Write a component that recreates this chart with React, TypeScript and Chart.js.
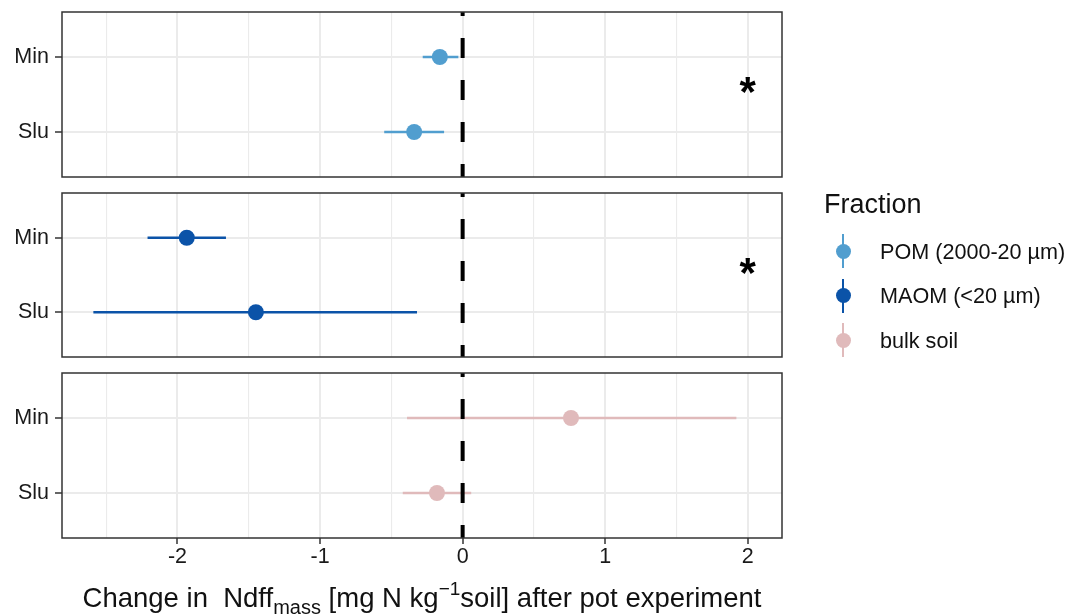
import React, { useEffect, useRef } from 'react';
import { Chart, registerables } from 'chart.js';

Chart.register(...registerables);

// ---------------- data ----------------
const categories = ['Min', 'Slu'];
const fractions = ['POM (2000-20 µm)', 'MAOM (<20 µm)', 'bulk soil'];
const fractionColors = ['#519ECF', '#0B53A8', '#E0BABB'];

const pomMean = [-0.16, -0.34];
const pomLow = [-0.28, -0.55];
const pomHigh = [-0.03, -0.13];

const maomMean = [-1.935, -1.45];
const maomLow = [-2.21, -2.59];
const maomHigh = [-1.66, -0.32];

const bulkMean = [0.76, -0.18];
const bulkLow = [-0.39, -0.42];
const bulkHigh = [1.92, 0.06];

const significance = ['*', '*', ''];
const sigPosX = [2, 2, 2];
const sigPosY = [1.5, 1.5, 1.5];

const xTickValues = [-2.5, -2, -1.5, -1, -0.5, 0, 0.5, 1, 1.5, 2];
const xRange = [-2.81, 2.24];
const yRange = [0.4, 2.6];
const refLine = 0;

const panelSeries = [
  { mean: pomMean, low: pomLow, high: pomHigh },
  { mean: maomMean, low: maomLow, high: maomHigh },
  { mean: bulkMean, low: bulkLow, high: bulkHigh },
];

// ---------------- layout ----------------
const FONT = '"Liberation Sans", Arial, Helvetica, sans-serif';
const W = 1069;
const panelLayouts = [
  { top: 0, height: 185, padTop: 12, padBottom: 7, showX: false, xHeight: 0 },
  { top: 185, height: 180, padTop: 7.5, padBottom: 7, showX: false, xHeight: 0 },
  { top: 365, height: 250, padTop: 7.5, padBottom: 0, showX: true, xHeight: 77 },
];

function Panel({ index }: { index: number }) {
  const ref = useRef<HTMLCanvasElement | null>(null);
  useEffect(() => {
    const canvas = ref.current;
    if (!canvas) return;
    const s = panelSeries[index];
    const color = fractionColors[index];
    const L = panelLayouts[index];

    const datasets: any[] = [];
    categories.forEach((_, i) => {
      datasets.push({
        data: [
          { x: s.low[i], y: i + 1 },
          { x: s.high[i], y: i + 1 },
        ],
        showLine: true,
        borderColor: color,
        borderWidth: 2.3,
        pointRadius: 0,
        order: 2,
      });
    });
    datasets.push({
      data: s.mean.map((m, i) => ({ x: m, y: i + 1 })),
      pointRadius: 8,
      backgroundColor: color,
      borderWidth: 0,
      order: 1,
    });
    datasets.push({
      data: [
        { x: refLine, y: yRange[0] },
        { x: refLine, y: yRange[1] },
      ],
      showLine: true,
      borderColor: '#000',
      borderWidth: 4,
      borderDash: [20, 22],
      borderDashOffset: 16,
      borderCapStyle: 'butt',
      pointRadius: 0,
      order: 0,
    });

    const decor = {
      id: 'decor' + index,
      afterDatasetsDraw(chart: any) {
        const { ctx, chartArea: a, scales } = chart;
        ctx.save();
        ctx.strokeStyle = '#333333';
        ctx.lineWidth = 1.5;
        ctx.strokeRect(a.left, a.top, a.right - a.left, a.bottom - a.top);
        const lab = significance[index];
        if (lab) {
          ctx.fillStyle = '#000';
          ctx.font = `bold 42px ${FONT}`;
          ctx.textAlign = 'center';
          ctx.textBaseline = 'middle';
          ctx.fillText(
            lab,
            scales.x.getPixelForValue(sigPosX[index]),
            scales.y.getPixelForValue(sigPosY[index])
          );
        }
        ctx.restore();
      },
    };

    const isInt = (v: number) => Math.abs(v - Math.round(v)) < 1e-9;

    const chart = new Chart(canvas, {
      type: 'scatter',
      data: { datasets },
      plugins: [decor],
      options: {
        animation: false,
        responsive: false,
        devicePixelRatio: 1,
        events: [],
        layout: { padding: { top: L.padTop, bottom: L.padBottom, left: 0, right: W - 782 } },
        plugins: { legend: { display: false }, tooltip: { enabled: false } },
        scales: {
          x: {
            type: 'linear',
            min: xRange[0],
            max: xRange[1],
            afterBuildTicks: (sc: any) => {
              sc.ticks = xTickValues.map((v) => ({ value: v }));
            },
            afterFit: (sc: any) => {
              sc.height = L.xHeight;
              sc.paddingLeft = 0;
              sc.paddingRight = 0;
            },
            ticks: {
              display: L.showX,
              autoSkip: false,
              maxRotation: 0,
              padding: 0,
              color: '#1a1a1a',
              font: { family: FONT, size: 21.5 },
              callback: (v: any) => (isInt(Number(v)) ? String(Math.round(Number(v))) : ''),
            },
            grid: {
              color: '#EBEBEB',
              lineWidth: (c: any) => (c.tick && isInt(c.tick.value) ? 2 : 1.1),
              drawTicks: L.showX,
              tickLength: 6,
              tickWidth: 1.5,
              tickColor: (c: any) => (c.tick && isInt(c.tick.value) ? '#333333' : 'rgba(0,0,0,0)'),
            },
            border: { display: false },
          },
          y: {
            type: 'linear',
            min: yRange[0],
            max: yRange[1],
            reverse: true,
            afterBuildTicks: (sc: any) => {
              sc.ticks = categories.map((_, i) => ({ value: i + 1 }));
            },
            afterFit: (sc: any) => {
              sc.width = 62;
              sc.paddingTop = 0;
              sc.paddingBottom = 0;
            },
            ticks: {
              padding: 6,
              color: '#1a1a1a',
              font: { family: FONT, size: 21.5 },
              callback: (v: any) => categories[Math.round(Number(v)) - 1] ?? '',
            },
            grid: {
              color: '#EBEBEB',
              lineWidth: 2,
              tickLength: 7,
              tickWidth: 1.5,
              tickColor: '#333333',
            },
            border: { display: false },
          },
        },
      } as any,
    });
    return () => chart.destroy();
  }, [index]);

  const L = panelLayouts[index];
  return (
    <canvas
      ref={ref}
      width={W}
      height={L.height}
      style={{ position: 'absolute', left: 0, top: L.top, width: W, height: L.height, display: 'block' }}
    />
  );
}

export default function App() {
  const legendKeyX = 843;
  const legendFirstY = 251;
  const legendStep = 44.5;
  return (
    <div
      style={{
        position: 'absolute',
        left: 0,
        top: 0,
        width: W,
        height: 615,
        background: '#fff',
        overflow: 'hidden',
        fontFamily: FONT,
        color: '#1a1a1a',
      }}
    >
      {panelLayouts.map((_, i) => (
        <Panel key={i} index={i} />
      ))}

      {/* x axis title */}
      <div
        style={{
          position: 'absolute',
          left: 0,
          width: 844,
          top: 584,
          textAlign: 'center',
          fontSize: 27.5,
          lineHeight: '27.5px',
          whiteSpace: 'pre',
          color: '#111',
        }}
      >
        {'Change in  Ndff'}
        <span style={{ fontSize: 20, position: 'relative', top: 7 }}>mass</span>
        {' [mg N kg'}
        <span style={{ fontSize: 19, position: 'relative', top: -12 }}>{'\u22121'}</span>
        {'soil] after pot experiment'}
      </div>

      {/* legend */}
      <div
        style={{
          position: 'absolute',
          left: 824,
          top: 191,
          fontSize: 27,
          lineHeight: '27px',
          whiteSpace: 'pre',
          color: '#111',
        }}
      >
        Fraction
      </div>
      {fractions.map((f, i) => {
        const cy = legendFirstY + legendStep * i;
        return (
          <React.Fragment key={f}>
            <div
              style={{
                position: 'absolute',
                left: legendKeyX - 1.25,
                top: cy - 17,
                width: 2.5,
                height: 34,
                background: fractionColors[i],
              }}
            />
            <div
              style={{
                position: 'absolute',
                left: legendKeyX - 7.5,
                top: cy - 7.5,
                width: 15,
                height: 15,
                borderRadius: '50%',
                background: fractionColors[i],
              }}
            />
            <div
              style={{
                position: 'absolute',
                left: 880,
                top: cy + 8 - 18.3,
                fontSize: 21.6,
                lineHeight: '21.6px',
                whiteSpace: 'pre',
                color: '#111',
              }}
            >
              {f}
            </div>
          </React.Fragment>
        );
      })}
    </div>
  );
}
